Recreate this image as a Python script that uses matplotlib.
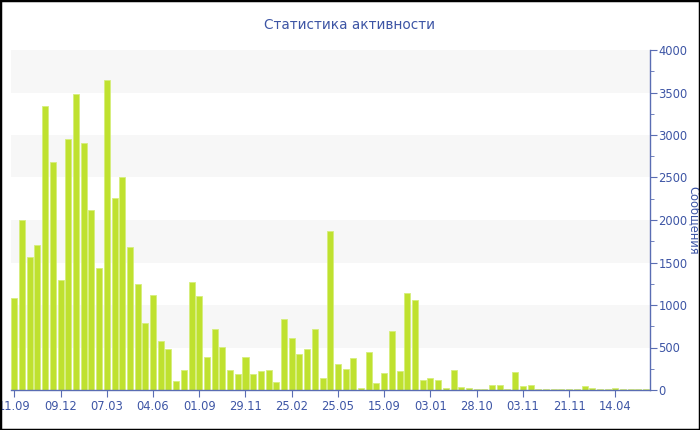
import matplotlib
matplotlib.use('Agg')
import matplotlib.pyplot as plt
from matplotlib.patches import Rectangle
from matplotlib.ticker import MultipleLocator

# message counts per period
counts = [
    1086, 2003, 1568, 1701, 3336, 2677, 1294, 2952, 3481, 2905,
    2121, 1439, 3642, 2254, 2501, 1686, 1247, 784, 1113, 580,
    482, 106, 235, 1266, 1105, 392, 717, 506, 231, 190,
    388, 192, 220, 231, 94, 835, 612, 420, 486, 713,
    145, 1870, 302, 251, 380, 20, 451, 82, 204, 690,
    227, 1137, 1055, 118, 137, 120, 20, 233, 30, 20,
    12, 12, 59, 55, 12, 208, 43, 55, 16, 12,
    12, 12, 12, 16, 47, 24, 12, 12, 20, 16,
    12, 12, 12,
]
tick_labels = ['11.09', '09.12', '07.03', '04.06', '01.09', '29.11', '25.02',
               '25.05', '15.09', '03.01', '28.10', '03.11', '21.11', '14.04']
tick_step = 6

text_color = '#3d55a5'
axis_color = '#5a6db3'
band_color = '#f7f7f7'
bar_color = '#bfe12f'

fig = plt.figure(figsize=(7, 4.3), dpi=100)
ax = fig.add_axes([10.5 / 700, 40 / 430, 639.5 / 700, 340 / 430])

n = len(counts)
xs = list(range(n))
ax.set_xlim(-0.5, n - 0.5)
ax.set_ylim(0, 4000)

for lo in range(500, 4000, 1000):
    ax.axhspan(lo, lo + 500, color=band_color, zorder=0, lw=0)

ax.bar(xs, counts, width=0.78, color=bar_color, edgecolor='#d6ee7c',
       linewidth=0.6, zorder=2)

ax.yaxis.tick_right()
ax.yaxis.set_major_locator(MultipleLocator(500))
ax.yaxis.set_minor_locator(MultipleLocator(250))
ax.tick_params(axis='y', which='major', length=5, color=axis_color,
               labelcolor=text_color, labelsize=8.3, pad=1)
ax.tick_params(axis='y', which='minor', length=3, color=axis_color)
ax.set_ylabel('Сообщения', color=text_color, fontsize=8.3, rotation=-90,
              va='center', ha='center')
ax.yaxis.set_label_coords((694 - 10.5) / 639.5, 0.5)

ax.set_xticks(xs[::tick_step])
ax.set_xticklabels(tick_labels)
ax.tick_params(axis='x', length=5, color=axis_color, labelcolor=text_color,
               labelsize=8.3, pad=2)

for side in ['top', 'left']:
    ax.spines[side].set_visible(False)
for side in ['right', 'bottom']:
    ax.spines[side].set_color(axis_color)
    ax.spines[side].set_linewidth(1)

fig.text(349 / 700, 1 - 25 / 430, 'Статистика активности', color=text_color,
         fontsize=9.8, ha='center', va='center')

# black frame around the whole picture
fig.patches.append(Rectangle((0, 0), 1, 1, transform=fig.transFigure,
                             fill=False, edgecolor='black', linewidth=2.5))

fig.savefig('out.png', dpi=100)
